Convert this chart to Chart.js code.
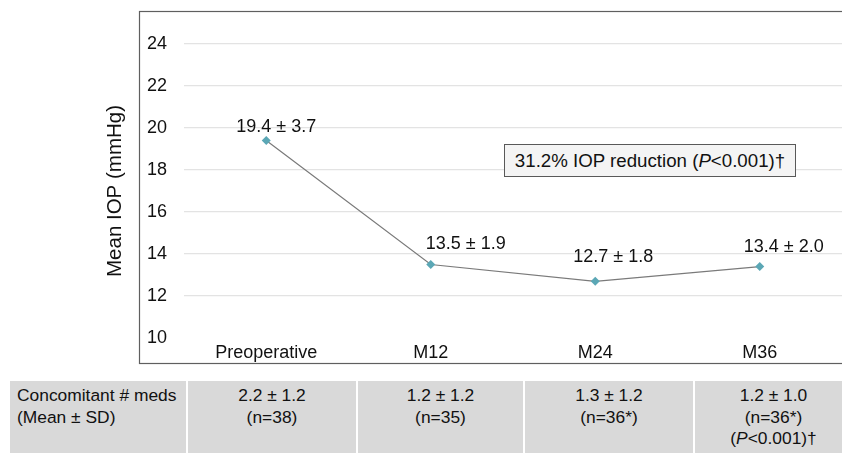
<!DOCTYPE html>
<html>
<head>
<meta charset="utf-8">
<script src="https://cdn.jsdelivr.net/npm/chart.js@4"></script>
<style>
  body { margin: 0; width: 842px; height: 453px; overflow: hidden; background: #fff; font-family: "Liberation Sans", Arial, sans-serif; }
  #wrap { position: relative; width: 842px; height: 453px; overflow: hidden; }
  #chart { position: absolute; left: 0; top: 0; }
  #note { position: absolute; left: 504px; top: 144px; width: 290px; height: 31px; border: 1px solid #595959;
          background: #f4f4f4; font-size: 18.7px; line-height: 31px; text-align: center; color: #111; }
  #meds { position: absolute; left: 10px; top: 381px; display: flex; width: 850px; }
  #meds div { box-sizing: border-box; flex: none; background: #d9d9d9; border-left: 2px solid #fff; height: 72px;
              padding-top: 4px; font-size: 17.4px; line-height: 21.5px; color: #111; text-align: center; }
  #meds div:first-child { border-left: none; text-align: left; padding-left: 7px; }
</style>
</head>
<body>
<div id="wrap">
  <canvas id="chart" width="842" height="370"></canvas>
  <div id="note">31.2% IOP reduction (<i>P</i>&lt;0.001)†</div>
  <div id="meds"></div>
</div>
<script>
var timepoints = ['Preoperative', 'M12', 'M24', 'M36'];
var iopMean = [19.4, 13.5, 12.7, 13.4];
var iopSd = [3.7, 1.9, 1.8, 2.0];
var yTicks = [10, 12, 14, 16, 18, 20, 22, 24];

var medsMean = [2.2, 1.2, 1.3, 1.2];
var medsSd = [1.2, 1.2, 1.2, 1.0];
var medsN = ['38', '35', '36*', '36*'];
var medsExtra = ['', '', '', '(<i>P</i>&lt;0.001)†'];

// table under the chart
var colWidths = [176, 170, 167, 170, 159];
var row = document.getElementById('meds');
var first = document.createElement('div');
first.style.width = colWidths[0] + 'px';
first.innerHTML = 'Concomitant # meds<br>(Mean ± SD)';
row.appendChild(first);
for (var i = 0; i < medsMean.length; i++) {
    var cell = document.createElement('div');
    cell.style.width = colWidths[i + 1] + 'px';
    cell.innerHTML = medsMean[i].toFixed(1) + ' ± ' + medsSd[i].toFixed(1) + '<br>(n=' + medsN[i] + ')' +
        (medsExtra[i] ? '<br>' + medsExtra[i] : '');
    row.appendChild(cell);
}

var boxPlugin = {
    id: 'box',
    beforeDraw: function (chart) {
        var c = chart.ctx;
        c.save();
        c.strokeStyle = '#5f5f5f';
        c.lineWidth = 1.2;
        c.strokeRect(139.5, 11.5, 720, 352);
        c.restore();
    }
};

var labelShift = { dx: [10, 35, 18, 24], dy: [-14, -20, -24, -20] };
var valueLabels = {
    id: 'valueLabels',
    afterDatasetsDraw: function (chart) {
        var c = chart.ctx;
        var pts = chart.getDatasetMeta(0).data;
        c.save();
        c.font = '18px "Liberation Sans", Arial, sans-serif';
        c.fillStyle = '#111';
        c.textAlign = 'center';
        c.textBaseline = 'middle';
        pts.forEach(function (p, i) {
            c.fillText(iopMean[i].toFixed(1) + ' ± ' + iopSd[i].toFixed(1), p.x + labelShift.dx[i], p.y + labelShift.dy[i]);
        });
        c.restore();
    }
};

var ctx = document.getElementById('chart').getContext('2d');
var myChart = new Chart(ctx, {
    type: 'line',
    data: {
        labels: timepoints,
        datasets: [{
            label: 'Mean IOP',
            data: iopMean,
            borderColor: '#7a7a7a',
            borderWidth: 1.2,
            pointStyle: 'rectRot',
            pointRadius: 4.5,
            pointBackgroundColor: '#5ba7b5',
            pointBorderColor: '#5ba7b5',
            pointBorderWidth: 0,
            tension: 0
        }]
    },
    options: {
        responsive: false,
        animation: false,
        layout: { autoPadding: false, padding: { left: 100, top: 44, right: 0, bottom: 0 } },
        plugins: { legend: { display: false }, tooltip: { enabled: false } },
        scales: {
            x: {
                offset: true,
                grid: { display: false },
                border: { display: false },
                ticks: { padding: -4, color: '#111', font: { size: 18, family: '"Liberation Sans", Arial, sans-serif' } },
                afterFit: function (s) { s.height = 32; s.paddingLeft = 0; s.paddingRight = 0; }
            },
            y: {
                min: 10,
                max: 24,
                afterBuildTicks: function (s) { s.ticks = yTicks.map(function (v) { return { value: v }; }); },
                grid: {
                    drawTicks: false,
                    color: function (c) { return c.tick.value === 10 ? 'rgba(0,0,0,0)' : '#e3e3e3'; },
                    lineWidth: 1.2
                },
                border: { display: false },
                ticks: { padding: 17, color: '#111', font: { size: 18, family: '"Liberation Sans", Arial, sans-serif' } },
                title: {
                    display: true,
                    text: 'Mean IOP (mmHg)',
                    color: '#111',
                    padding: { top: 3, bottom: 0 },
                    font: { size: 20.5, family: '"Liberation Sans", Arial, sans-serif' }
                },
                afterFit: function (s) { s.width = 84; }
            }
        }
    },
    plugins: [boxPlugin, valueLabels]
});
</script>
</body>
</html>
